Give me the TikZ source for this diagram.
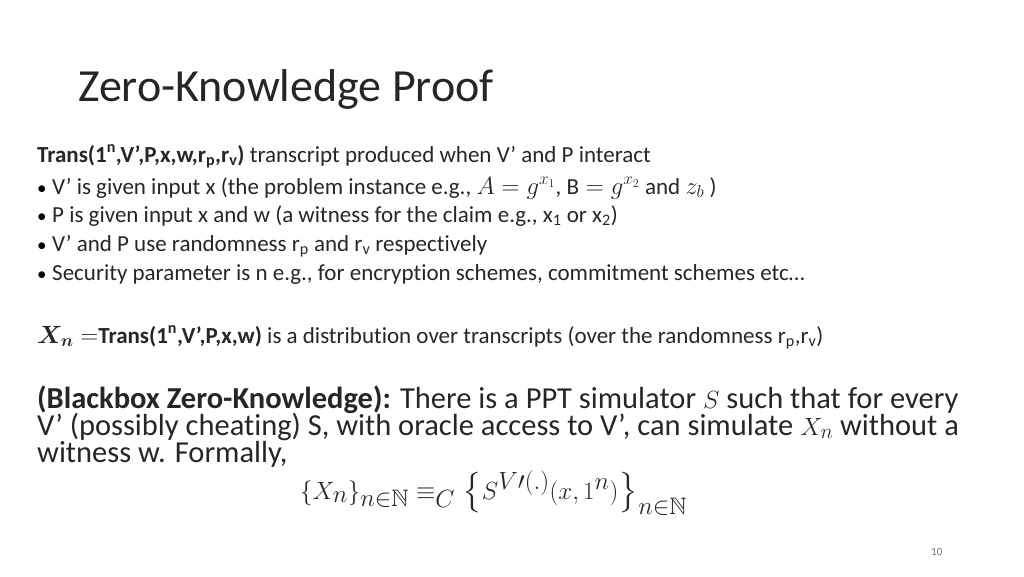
\documentclass[tikz,border=0pt]{standalone}
\usepackage{amsmath,amssymb}
\usepackage{fontspec}
\setmainfont[Ligatures=NoCommon]{Carlito}
\tikzset{txt/.style={anchor=base west,inner sep=0pt,text=black!85},
 bul/.style={anchor=base west,inner sep=0pt}}
\newcommand{\fs}[1]{\fontsize{#1}{#1}\selectfont}
\begin{document}
\begin{tikzpicture}[x=1pt,y=-1pt]
\useasboundingbox (0,0) rectangle (1024,576);
\node[txt] (title) at (78,101) {\fs{46}Zero-Knowledge Proof};
\node[txt] (l1) at (37,162) {\fs{23}\textbf{Trans(1\textsuperscript{n},V’,P,x,w,r\textsubscript{p},r\textsubscript{v})} transcript produced when V’ and P interact};
\node[bul] (b1) at (37,194) {\fs{19}•}; \node[txt] (t1) at (52,194) {\fs{23}V’ is given input x (the problem instance e.g., $A=g^{x_1}$, $\mathrm{B}=g^{x_2}$ and $z_b$ )};
\node[bul] (b2) at (37,222) {\fs{19}•}; \node[txt] (t2) at (52,222) {\fs{23}P is given input x and w (a witness for the claim e.g., x\textsubscript{1} or x\textsubscript{2})};
\node[bul] (b3) at (37,251) {\fs{19}•}; \node[txt] (t3) at (52,251) {\fs{23}V’ and P use randomness r\textsubscript{p} and r\textsubscript{v} respectively};
\node[bul] (b4) at (37,280) {\fs{19}•}; \node[txt] (t4) at (52,280) {\fs{23}Security parameter is n e.g., for encryption schemes, commitment schemes etc…};
\node[txt] (xn) at (37,343) {\fs{23}$\boldsymbol{X_n}=$\textbf{Trans(1\textsuperscript{n},V’,P,x,w)} is a distribution over transcripts (over the randomness r\textsubscript{p},r\textsubscript{v})};
\node[txt] (p1) at (37,408) {\fs{30.5}\textbf{(Blackbox Zero-Knowledge):} There is a PPT simulator $S$ such that for every};
\node[txt] (p2) at (37,435) {\fs{30.5}V’ (possibly cheating) S, with oracle access to V’, can simulate $X_n$ without a};
\node[txt] (p3) at (37,462) {\fs{30.5}witness w. Formally,};
\node[txt] (f) at (300,499) {\fs{34}$\{X_n\}_{n\in\mathbb{N}}\equiv_C \left\{S^{V\prime(.)}(x,1^n)\right\}_{n\in\mathbb{N}}$};
\node[txt,text=black!55] (pg) at (931,555) {\fs{11}10};
\end{tikzpicture}
\end{document}
